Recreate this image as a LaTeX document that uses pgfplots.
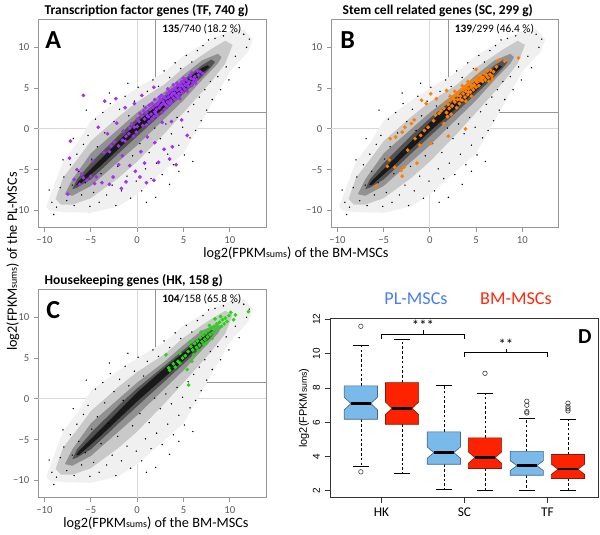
\documentclass[border=0pt]{standalone}
\usepackage{fontspec}
\setmainfont{Carlito}
\newfontfamily\arialf{Liberation Sans}
\usepackage{pgfplots}
\pgfplotsset{compat=1.18}

\definecolor{tfcol}{RGB}{160,50,245}
\definecolor{sccol}{RGB}{255,128,0}
\definecolor{hkcol}{RGB}{40,215,20}
\definecolor{plblue}{RGB}{122,186,234}
\definecolor{plbord}{RGB}{70,105,135}
\definecolor{bmred}{RGB}{255,34,0}
\definecolor{bmbord}{RGB}{140,25,0}
\definecolor{plleg}{RGB}{70,125,250}
\definecolor{bmleg}{RGB}{255,40,10}
\definecolor{frame}{RGB}{150,150,150}

% sparse background genes (outer part of the cloud)
\pgfplotstableread{
x y
-9.2 -9.0
-8.7 -9.6
-8.3 -7.2
-7.9 -5.9
-7.6 -8.8
-7.2 -4.4
-7.0 -6.9
-6.8 -9.4
-6.5 -3.1
-6.3 -5.2
-6.0 -8.1
-5.8 -1.9
-5.6 -6.6
-5.3 -0.8
-5.1 -9.5
-4.9 -3.7
-4.7 -7.8
-4.5 1.2
-4.3 -2.2
-4.1 -9.0
-3.9 -5.5
-3.7 2.0
-3.5 -0.5
-3.3 -8.1
-3.1 -3.0
-2.9 3.1
-2.7 -6.9
-2.5 0.9
-2.3 -9.4
-2.1 -4.6
-1.9 2.4
-1.7 -7.6
-1.5 -0.2
-1.3 4.0
-1.1 -5.8
-0.9 1.6
-0.7 -8.5
-0.5 -3.3
-0.3 3.4
-0.1 -6.4
0.1 5.1
0.3 -1.8
0.5 -7.6
0.7 2.8
0.9 -4.9
1.1 4.6
1.3 -2.9
1.5 -6.1
1.7 6.0
1.9 0.1
2.1 -4.2
2.3 5.2
2.5 -1.2
2.7 -5.6
2.9 7.1
3.1 0.6
3.3 -3.1
3.5 6.3
3.7 -0.6
3.9 -4.4
4.1 8.1
4.3 1.4
4.5 -2.0
4.7 7.4
4.9 0.2
5.1 -3.2
5.3 9.0
5.5 2.1
5.7 -1.1
5.9 8.2
6.1 3.0
6.3 -0.2
6.5 9.6
6.7 3.9
6.9 1.0
7.1 10.2
7.3 4.8
7.5 2.3
7.7 10.9
7.9 5.8
8.1 3.6
8.4 11.1
8.7 6.4
9.0 4.8
9.3 11.4
9.6 7.6
9.9 6.0
10.3 11.8
10.6 8.9
11.0 7.5
11.5 11.6
11.8 10.0
12.1 11.0
-8.0 -3.8
-6.9 -1.2
-5.5 2.3
-3.0 4.4
-1.0 5.6
1.0 -9.0
2.0 -8.4
3.5 -6.8
4.5 -5.2
6.0 -4.0
-9.5 -7.5
-9.0 -10.5
}\bgdots

% transcription factor genes
\pgfplotstableread{
x y
0.2 0.9
0.5 1.6
0.8 1.2
1.0 2.0
1.2 1.5
1.4 2.4
1.5 1.8
1.7 2.6
1.9 2.1
2.0 2.9
2.1 2.4
2.3 3.2
2.4 2.6
2.5 3.6
2.6 2.9
2.8 3.4
2.9 3.9
3.0 3.0
3.1 3.7
3.2 4.3
3.3 3.3
3.4 3.9
3.5 4.6
3.6 3.5
3.7 4.1
3.8 4.8
3.9 3.8
4.0 4.4
4.1 5.0
4.2 4.1
4.3 4.7
4.4 5.3
4.5 4.3
4.6 4.9
4.7 5.4
4.8 4.6
4.9 5.2
5.0 5.7
5.1 4.9
5.2 5.4
5.3 6.0
5.5 5.2
5.6 5.8
5.8 6.2
6.0 5.7
6.2 6.4
6.4 6.0
6.6 6.6
5.4 4.6
3.0 2.4
2.2 1.6
1.3 0.9
-0.3 0.2
-0.6 0.6
-0.9 -0.6
-1.2 -0.9
-1.6 -1.4
-2.0 -2.1
-0.4 -0.9
0.0 0.3
4.6 3.7
2.7 2.0
1.6 3.1
2.4 3.9
3.3 4.9
0.9 2.6
1.9 3.6
3.9 5.4
5.9 6.9
0.3 1.9
0.6 0.4
1.1 1.6
1.6 1.2
2.0 1.9
2.4 3.4
2.9 3.1
3.2 2.8
3.4 4.4
3.8 4.3
4.1 3.6
4.3 5.6
4.6 5.3
4.9 4.4
5.2 6.1
5.5 5.6
5.7 6.6
6.1 6.1
6.3 5.6
6.8 7.0
7.1 6.8
0.0 1.2
0.7 2.2
1.3 2.9
2.2 3.0
2.6 4.1
3.5 3.1
4.0 4.9
4.4 3.9
5.0 6.2
5.9 5.3
1.0 0.5
1.8 1.5
3.7 3.2
4.8 5.8
6.5 7.1
-0.1 -0.4
-0.8 0.1
-1.5 -0.3
-2.5 -1.6
-3.0 -2.8
-5.8 4.1
-3.5 3.4
-2.3 3.7
-4.2 0.2
-1.3 2.6
-0.3 3.1
0.5 4.1
1.8 5.1
-2.2 0.7
-3.2 -0.6
-1.3 -1.5
-7.2 -1.5
-7.3 -3.6
-6.5 -5.0
-6.0 -5.5
-5.4 -6.3
-6.8 -6.2
-5.0 -5.8
-4.6 -6.7
-6.2 -6.8
-5.8 -6.0
-7.5 -8.0
-3.8 -6.6
-4.4 -5.9
-3.0 -6.8
-2.6 -5.9
-1.7 -7.3
-1.2 -6.5
0.3 -5.9
1.0 -6.6
1.8 -6.3
-0.8 -4.5
-0.2 -5.2
-2.0 -4.4
0.8 -4.2
2.3 -4.1
3.5 -3.7
4.2 -4.4
2.9 -2.5
3.8 -2.2
1.9 -1.7
5.4 -0.8
4.8 1.1
3.7 0.9
2.7 0.8
-3.6 -2.9
-2.8 -2.1
-4.8 -3.9
-1.6 -3.3
0.4 -2.8
1.1 -1.0
}\tfdata

% stem cell related genes
\pgfplotstableread{
x y
2.0 3.0
2.2 3.5
2.4 2.8
2.5 3.9
2.7 3.3
2.8 4.2
3.0 3.6
3.1 4.5
3.2 3.1
3.3 4.0
3.4 4.8
3.5 3.5
3.6 4.3
3.7 5.0
3.8 3.9
3.9 4.6
4.0 5.3
4.1 4.2
4.2 4.9
4.3 5.5
4.4 4.5
4.5 5.1
4.6 5.8
4.7 4.8
4.8 5.4
4.9 6.0
5.0 5.1
5.1 5.7
5.2 6.2
5.3 5.3
5.4 5.9
5.5 6.4
5.7 5.8
5.8 6.3
6.0 6.0
6.1 6.6
6.3 6.3
6.5 6.7
6.7 6.5
5.0 7.3
7.4 8.4
8.1 8.3
9.6 8.7
1.5 2.5
1.2 2.2
1.8 2.0
2.9 2.6
3.9 3.4
4.5 4.0
1.0 1.9
0.6 1.7
1.5 0.65
1.9 1.5
0.4 1.0
2.3 1.8
2.1 2.5
2.6 3.6
3.0 4.1
3.3 3.6
3.6 4.8
3.9 5.0
4.2 4.5
4.4 5.4
4.7 5.3
5.0 5.9
5.3 6.6
5.6 6.1
5.9 6.8
6.2 7.1
6.6 7.2
6.9 7.0
7.2 7.6
2.7 4.6
3.5 5.3
4.1 5.8
1.6 3.1
2.2 4.0
6.4 5.8
6.8 6.1
0.1 4.3
0.7 3.7
-0.9 3.5
-0.4 3.1
1.8 4.7
-1.7 1.1
-2.0 0.65
-2.7 0.2
-4.3 -1.2
-3.7 -1.0
-3.0 -0.4
-1.1 -2.0
0.1 -1.8
2.0 -0.9
3.85 0.0
-4.4 -3.8
-3.8 -4.7
-3.1 -5.1
-3.0 -5.8
-1.4 -4.2
-5.8 -7.0
-1.0 -0.8
-0.2 0.2
-2.4 -2.6
-1.6 -1.2
-4.6 -4.6
-2.8 -4.7
-0.6 -0.2
}\scdata

% housekeeping genes
\pgfplotstableread{
x y
5.5 5.8
5.8 6.4
6.0 6.0
6.2 6.8
6.4 6.3
6.5 7.1
6.7 6.6
6.8 7.5
7.0 7.0
7.1 7.8
7.3 7.3
7.4 8.1
7.6 7.6
7.7 8.4
7.9 7.9
8.0 8.7
8.2 8.1
8.3 8.9
8.5 8.4
8.6 9.2
8.8 8.7
8.9 9.4
9.1 8.9
9.2 9.7
9.4 9.2
9.5 9.9
9.7 9.5
9.9 10.2
10.1 10.6
10.6 10.3
10.4 9.7
12.0 10.7
7.2 6.7
6.1 5.4
5.2 5.3
4.9 5.0
4.6 4.4
4.4 4.6
4.1 3.9
3.5 3.5
3.4 3.8
3.1 5.4
5.4 3.6
5.55 1.7
5.9 4.6
6.6 5.9
7.5 6.9
8.1 7.4
6.9 8.2
5.7 7.0
4.6 5.6
3.9 4.3
9.0 10.1
8.4 9.8
7.8 9.0
}\hkdata

% density layers of all genes (outer to inner)
\newcommand{\cloud}{%
\addplot[fill=black!6, draw=none] coordinates {(-9.8,-9.5) (-9,-7) (-8,-4) (-6.5,-1.8) (-5,1) (-2,3.5) (0,5) (3,7) (5,9) (8,11) (10,12) (11.5,12.2) (12.5,11) (12,9.5) (10,7) (8,3) (5,-3) (3,-5) (0,-8) (-2,-9.5) (-5,-10.3) (-8,-10.2) (-9.5,-10)} -- cycle;
\addplot[fill=black!21, draw=none] coordinates {(-8.8,-8.6) (-8,-6) (-6.5,-3.8) (-5,-1.5) (-2,1.5) (0,3.3) (3,5.5) (5,7.5) (8,9.8) (9.5,10.8) (10.3,10.3) (9.5,8) (8,5.8) (5,2) (3,-0.5) (0,-4) (-2,-6) (-5,-8.5) (-7,-9.3) (-8.2,-9.3)} -- cycle;
\addplot[fill=black!43, draw=none] coordinates {(-7.8,-8) (-7,-6.2) (-5,-3) (-2,0) (0,2) (3,4.6) (5,6.6) (7,8.4) (8.7,9.2) (9.1,8.8) (8.7,8) (7,6) (5,3.5) (3,1.3) (0,-2) (-2,-4) (-5,-7) (-7,-8.2)} -- cycle;
\addplot[fill=black!68, draw=none] coordinates {(-7,-7.4) (-6.5,-6.2) (-5,-4.2) (-2,-0.8) (0,1.3) (3,4.1) (5,6.0) (7,7.8) (8,8.5) (8.4,8.2) (8,7.6) (7,6.4) (5,4.3) (3,2.2) (0,-0.9) (-2,-3) (-5,-6.2) (-6.5,-7.2)} -- cycle;
\addplot[fill=black!90, draw=none] coordinates {(-6.6,-6.9) (-6.3,-6.4) (-4,-3.8) (0,0.8) (3,3.8) (5,5.7) (7,7.5) (7.6,7.8) (7.8,7.6) (7.6,7.4) (7,6.8) (5,4.7) (3,2.7) (0,-0.3) (-4,-4.6) (-6.3,-6.9)} -- cycle;
\addplot[only marks, mark=*, mark size=0.3pt, mark options={draw=none, fill=black!45}] table {\bgdots};
}
\newcommand{\guides}{%
\addplot[black!15, line width=0.6pt] coordinates {(0,-12.1) (0,13.4)};
\addplot[black!15, line width=0.6pt] coordinates {(-10.7,0) (13.9,0)};
\addplot[frame, line width=0.7pt] coordinates {(2,13.4) (2,2) (13.9,2)};
}

\pgfplotsset{
  scat/.style={
    scale only axis, anchor=south west,
    width=171pt, height=156pt,
    xmin=-10.7, xmax=13.9, ymin=-12.1, ymax=13.4,
    xtick={-10,-5,0,5,10}, ytick={-10,-5,0,5,10},
    xticklabels={−10,−5,0,5,10}, yticklabels={−10,−5,0,5,10},
    tick align=outside, xtick pos=left, ytick pos=left,
    major tick length=3pt,
    axis line style={frame, line width=0.7pt},
    every tick/.style={frame, line width=0.6pt},
    tick label style={font=\fontsize{8}{9}\selectfont, text=black!65},
  },
  gset/.style={only marks, color=#1, mark=*, mark size=1.2pt, mark options={draw=none, fill=#1}},
}

\newcommand{\lab}{log2(FPKM{\fontsize{7.5}{8}\selectfont sums}) of the}

\begin{document}
\begin{tikzpicture}
\path (0,0) rectangle (450pt,396pt);

% A
\begin{axis}[scat, at={(28.5pt,228pt)}]
\guides
\cloud
\addplot[gset=tfcol] table {\tfdata};
\node[anchor=west, font=\fontsize{8.5}{10}\selectfont] at (axis cs:2.2,12.2) {\textbf{135}/740 (18.2 \%)};
\node[font=\bfseries\fontsize{19.5}{20}\selectfont] at (axis cs:-9.05,10.9) {A};
\end{axis}

% B
\begin{axis}[scat, at={(248.25pt,228pt)}, width=170.5pt]
\guides
\cloud
\addplot[gset=sccol] table {\scdata};
\node[anchor=west, font=\fontsize{8.5}{10}\selectfont] at (axis cs:2.2,12.2) {\textbf{139}/299 (46.4 \%)};
\node[font=\bfseries\fontsize{19.5}{20}\selectfont] at (axis cs:-8.9,10.9) {B};
\end{axis}

% C
\begin{axis}[scat, at={(28.5pt,25.5pt)}]
\guides
\cloud
\addplot[gset=hkcol] table {\hkdata};
\node[anchor=west, font=\fontsize{8.5}{10}\selectfont] at (axis cs:2.2,12.2) {\textbf{104}/158 (65.8 \%)};
\node[font=\bfseries\fontsize{19.5}{20}\selectfont] at (axis cs:-9.05,10.9) {C};
\end{axis}

% D
\begin{axis}[
  at={(247.5pt,25.5pt)}, anchor=south west, scale only axis,
  width=201pt, height=134.25pt,
  xmin=0.38, xmax=3.61, ymin=1.61, ymax=12.04,
  xtick={1,2,3}, xticklabels={HK,SC,TF},
  ytick={2,4,6,8,10,12}, yticklabels={2,4,6,8,10,12},
  tick align=outside, xtick pos=left, ytick pos=left, major tick length=4pt,
  yticklabel style={rotate=90, anchor=south, font=\arialf\fontsize{7.5}{8}\selectfont},
  xticklabel style={font=\fontsize{10}{11}\selectfont},
  axis line style={black!80, line width=0.6pt},
  every tick/.style={black!80, line width=0.6pt},
  ylabel={log2(FPKM{\fontsize{6.5}{7}\selectfont sums})},
  ylabel style={font=\arialf\fontsize{8.2}{9}\selectfont, yshift=-4pt},
  clip=false,
]
% whiskers
\addplot[black, dashed, dash pattern=on 2pt off 1.6pt, line width=0.5pt] coordinates {(0.752,8.12) (0.752,10.47)};
\addplot[black, dashed, dash pattern=on 2pt off 1.6pt, line width=0.5pt] coordinates {(0.752,6.17) (0.752,3.44)};
\addplot[black, dashed, dash pattern=on 2pt off 1.6pt, line width=0.5pt] coordinates {(1.248,8.31) (1.248,10.85)};
\addplot[black, dashed, dash pattern=on 2pt off 1.6pt, line width=0.5pt] coordinates {(1.248,5.88) (1.248,2.99)};
\addplot[black, dashed, dash pattern=on 2pt off 1.6pt, line width=0.5pt] coordinates {(1.752,5.44) (1.752,8.12)};
\addplot[black, dashed, dash pattern=on 2pt off 1.6pt, line width=0.5pt] coordinates {(1.752,3.55) (1.752,2.10)};
\addplot[black, dashed, dash pattern=on 2pt off 1.6pt, line width=0.5pt] coordinates {(2.248,5.09) (2.248,7.67)};
\addplot[black, dashed, dash pattern=on 2pt off 1.6pt, line width=0.5pt] coordinates {(2.248,3.30) (2.248,2.00)};
\addplot[black, dashed, dash pattern=on 2pt off 1.6pt, line width=0.5pt] coordinates {(2.752,4.30) (2.752,6.21)};
\addplot[black, dashed, dash pattern=on 2pt off 1.6pt, line width=0.5pt] coordinates {(2.752,2.91) (2.752,2.00)};
\addplot[black, dashed, dash pattern=on 2pt off 1.6pt, line width=0.5pt] coordinates {(3.248,4.12) (3.248,6.17)};
\addplot[black, dashed, dash pattern=on 2pt off 1.6pt, line width=0.5pt] coordinates {(3.248,2.72) (3.248,2.04)};
% caps
\addplot[black, line width=0.6pt] coordinates {(0.652,10.47) (0.852,10.47)};
\addplot[black, line width=0.6pt] coordinates {(0.652,3.44) (0.852,3.44)};
\addplot[black, line width=0.6pt] coordinates {(1.148,10.85) (1.348,10.85)};
\addplot[black, line width=0.6pt] coordinates {(1.148,2.99) (1.348,2.99)};
\addplot[black, line width=0.6pt] coordinates {(1.652,8.12) (1.852,8.12)};
\addplot[black, line width=0.6pt] coordinates {(1.652,2.10) (1.852,2.10)};
\addplot[black, line width=0.6pt] coordinates {(2.148,7.67) (2.348,7.67)};
\addplot[black, line width=0.6pt] coordinates {(2.148,2.00) (2.348,2.00)};
\addplot[black, line width=0.6pt] coordinates {(2.652,6.21) (2.852,6.21)};
\addplot[black, line width=0.6pt] coordinates {(2.652,2.00) (2.852,2.00)};
\addplot[black, line width=0.6pt] coordinates {(3.148,6.17) (3.348,6.17)};
\addplot[black, line width=0.6pt] coordinates {(3.148,2.04) (3.348,2.04)};
% notched boxes
\addplot[fill=plblue, draw=plbord, line width=0.5pt] coordinates {(0.552,6.17) (0.952,6.17) (0.952,6.72) (0.872,7.09) (0.952,7.46) (0.952,8.12) (0.552,8.12) (0.552,7.46) (0.632,7.09) (0.552,6.72)} -- cycle;
\addplot[fill=bmred, draw=bmbord, line width=0.5pt] coordinates {(1.048,5.88) (1.448,5.88) (1.448,6.44) (1.368,6.81) (1.448,7.18) (1.448,8.31) (1.048,8.31) (1.048,7.18) (1.128,6.81) (1.048,6.44)} -- cycle;
\addplot[fill=plblue, draw=plbord, line width=0.5pt] coordinates {(1.552,3.55) (1.952,3.55) (1.952,3.90) (1.872,4.23) (1.952,4.56) (1.952,5.44) (1.552,5.44) (1.552,4.56) (1.632,4.23) (1.552,3.90)} -- cycle;
\addplot[fill=bmred, draw=bmbord, line width=0.5pt] coordinates {(2.048,3.30) (2.448,3.30) (2.448,3.61) (2.368,3.94) (2.448,4.27) (2.448,5.09) (2.048,5.09) (2.048,4.27) (2.128,3.94) (2.048,3.61)} -- cycle;
\addplot[fill=plblue, draw=plbord, line width=0.5pt] coordinates {(2.552,2.91) (2.952,2.91) (2.952,3.18) (2.872,3.47) (2.952,3.76) (2.952,4.30) (2.552,4.30) (2.552,3.76) (2.632,3.47) (2.552,3.18)} -- cycle;
\addplot[fill=bmred, draw=bmbord, line width=0.5pt] coordinates {(3.048,2.72) (3.448,2.72) (3.448,2.96) (3.368,3.26) (3.448,3.56) (3.448,4.12) (3.048,4.12) (3.048,3.56) (3.128,3.26) (3.048,2.96)} -- cycle;
% medians
\addplot[black, line width=1.8pt] coordinates {(0.632,7.09) (0.872,7.09)};
\addplot[black, line width=1.8pt] coordinates {(1.128,6.81) (1.368,6.81)};
\addplot[black, line width=1.8pt] coordinates {(1.632,4.23) (1.872,4.23)};
\addplot[black, line width=1.8pt] coordinates {(2.128,3.94) (2.368,3.94)};
\addplot[black, line width=1.8pt] coordinates {(2.632,3.47) (2.872,3.47)};
\addplot[black, line width=1.8pt] coordinates {(3.128,3.26) (3.368,3.26)};
% outliers
\addplot[only marks, mark=o, mark size=1.7pt, black!75, line width=0.45pt] coordinates {(0.752,11.59) (0.752,3.11) (2.248,8.85) (2.752,6.54) (2.752,6.62) (2.752,6.99) (2.752,7.22) (3.248,6.66) (3.248,6.78) (3.248,6.91) (3.248,7.11)};
% significance brackets
\addplot[black, line width=0.6pt] coordinates {(1,10.83) (1,11.11) (2,11.11) (2,10.83)};
\addplot[black, line width=0.6pt] coordinates {(1.5,11.11) (1.5,11.36)};
\addplot[black, line width=0.6pt] coordinates {(2,9.80) (2,10.06) (3,10.06) (3,9.80)};
\addplot[black, line width=0.6pt] coordinates {(2.5,10.06) (2.5,10.29)};
\node[font=\fontsize{11}{11}\selectfont] at (axis cs:1.5,11.62) {***};
\node[font=\fontsize{11}{11}\selectfont] at (axis cs:2.5,10.55) {**};
\node[font=\bfseries\fontsize{16}{16}\selectfont] at (axis cs:3.45,11.0) {D};
\end{axis}

% titles and shared labels
\node[anchor=west, font=\bfseries\fontsize{10.1}{12}\selectfont] at (30pt,390.75pt) {Transcription factor genes (TF, 740 g)};
\node[anchor=west, font=\bfseries\fontsize{10.1}{12}\selectfont] at (253.5pt,390.75pt) {Stem cell related genes (SC, 299 g)};
\node[anchor=west, font=\bfseries\fontsize{10.1}{12}\selectfont] at (30pt,188.25pt) {Housekeeping genes (HK, 158 g)};
\node[font=\fontsize{10.7}{12}\selectfont] at (222pt,208.5pt) {\lab{} BM-MSCs};
\node[font=\fontsize{10.7}{12}\selectfont] at (117pt,6pt) {\lab{} BM-MSCs};
\node[rotate=90, font=\fontsize{10.7}{12}\selectfont] at (9.75pt,202.5pt) {\lab{} PL-MSCs};
\node[font=\fontsize{13.6}{15}\selectfont, text=plleg] at (312pt,174.75pt) {PL-MSCs};
\node[font=\fontsize{13.6}{15}\selectfont, text=bmleg] at (387pt,174.75pt) {BM-MSCs};
\end{tikzpicture}
\end{document}
